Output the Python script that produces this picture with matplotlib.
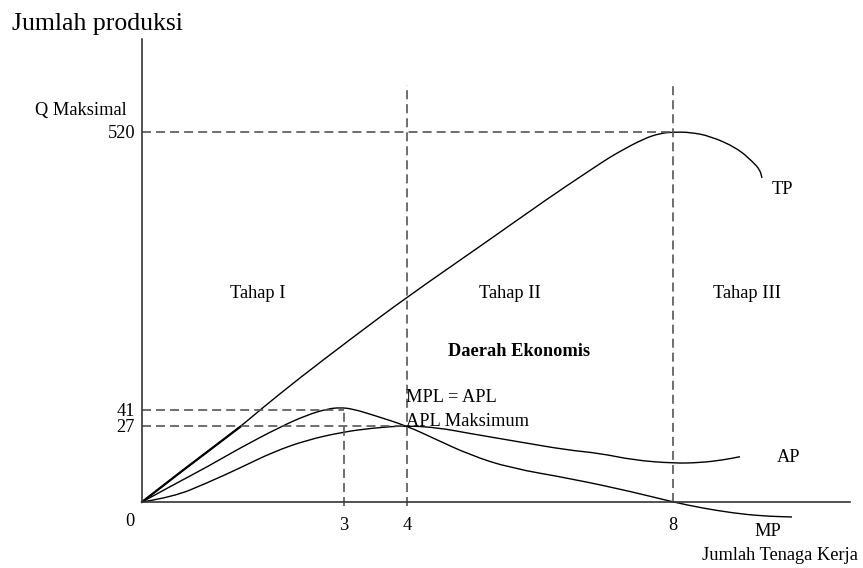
import matplotlib
matplotlib.use("Agg")
import matplotlib.pyplot as plt
from matplotlib.path import Path
from matplotlib.patches import PathPatch

plt.rcParams['font.family'] = ['Liberation Serif', 'DejaVu Serif']
plt.rcParams['lines.scale_dashes'] = False

# Schematic units (drawn position): x = labour input, y = output
tp_x = [0, 40, 98, 118, 155, 210, 265, 340, 408, 441, 462, 475, 501, 518, 532, 548, 568, 595, 611, 618, 620]
tp_y = [0, 31, 75, 92, 122, 164, 205, 257, 305, 327, 341, 349, 363, 368.7, 370, 369.7, 366, 354, 340, 332, 324]

mp_x = [0, 31, 65, 98, 138, 165, 185, 198, 211, 231, 265, 291, 328, 368, 431, 491, 531, 560, 591, 620, 650]
mp_y = [0, 17, 35, 54, 75, 87, 93, 94.5, 93, 87, 76, 64, 47, 34, 23, 10, 0, -6, -11, -14, -15]

ap_x = [0, 31, 65, 98, 131, 165, 201, 231, 265, 298, 325, 378, 425, 458, 491, 531, 558, 581, 598]
ap_y = [0, 5, 19, 34, 50, 62, 70, 74, 76.5, 74, 69, 60, 52, 48.7, 42, 38.7, 39.3, 42, 45.3]

# key positions on the axes and their labels
x_tick_pos = [202, 265, 531]
x_tick_lab = ["3", "4", "8"]
y_tick_pos = [76, 92, 370]
y_tick_lab = ["27", "41", "520"]


def smooth_curve(xs, ys):
    verts = [(xs[0], ys[0])]
    codes = [Path.MOVETO]
    for i in range(1, len(xs) - 1):
        mx = (xs[i] + xs[i + 1]) / 2.0
        my = (ys[i] + ys[i + 1]) / 2.0
        verts += [(xs[i], ys[i]), (mx, my)]
        codes += [Path.CURVE3, Path.CURVE3]
    verts.append((xs[-1], ys[-1]))
    codes.append(Path.LINETO)
    return Path(verts, codes)


fig = plt.figure(figsize=(8.63, 5.68), dpi=100)
ax = fig.add_axes([0, 0, 1, 1])
ax.set_xlim(-142, 721)
ax.set_ylim(-66, 502)

for s in ['top', 'right']:
    ax.spines[s].set_visible(False)
ax.spines['left'].set_position(('data', 0))
ax.spines['bottom'].set_position(('data', 0))
ax.spines['left'].set_bounds(0, 463)
ax.spines['bottom'].set_bounds(0, 708)
for s in ['left', 'bottom']:
    ax.spines[s].set_color('#333333')
    ax.spines[s].set_linewidth(1.2)

ax.set_xticks(x_tick_pos, x_tick_lab)
ax.set_yticks(y_tick_pos, y_tick_lab)
ax.tick_params(axis='x', length=0, pad=11, labelsize=13.2)
ax.tick_params(axis='y', length=0, pad=5, labelsize=13.2)

dash = dict(color='#555555', lw=1.2, linestyle=(0, (6.5, 3.6)))
# horizontal guides
ax.plot([0, x_tick_pos[2]], [y_tick_pos[2]] * 2, **dash)
ax.plot([0, x_tick_pos[0]], [y_tick_pos[1]] * 2, **dash)
ax.plot([0, x_tick_pos[1]], [y_tick_pos[0]] * 2, **dash)
# vertical guides
ax.plot([x_tick_pos[0]] * 2, [-4, y_tick_pos[1]], **dash)
ax.plot([x_tick_pos[1]] * 2, [-4, 417], **dash)
ax.plot([x_tick_pos[2]] * 2, [0, 417], **dash)

# curves
for xs, ys in [(tp_x, tp_y), (mp_x, mp_y), (ap_x, ap_y)]:
    ax.add_patch(PathPatch(smooth_curve(xs, ys), facecolor='none',
                           edgecolor='black', lw=1.0))
# the doubled stroke at the start of TP
ax.plot(tp_x[:3], tp_y[:3], color='black', lw=1.6)

fs = 13.2
ax.text(-12, -20, "0", ha='center', va='center', fontsize=fs)
ax.text(-130, 472, "Jumlah produksi", ha='left', va='baseline', fontsize=18.5)
ax.text(-15, 387, "Q Maksimal", ha='right', va='baseline', fontsize=fs)
ax.text(116, 209, "Tahap I", ha='center', va='center', fontsize=fs)
ax.text(368, 209, "Tahap II", ha='center', va='center', fontsize=fs)
ax.text(605, 209, "Tahap III", ha='center', va='center', fontsize=fs)
ax.text(377, 150, "Daerah Ekonomis", ha='center', va='center', fontsize=fs, fontweight='bold')
ax.text(264, 104, "MPL = APL", ha='left', va='center', fontsize=fs)
ax.text(264, 80, "APL Maksimum", ha='left', va='center', fontsize=fs)
ax.text(630, 313, "TP", ha='left', va='center', fontsize=fs)
ax.text(635, 45, "AP", ha='left', va='center', fontsize=fs)
ax.text(612, -29, "MP", ha='left', va='center', fontsize=fs)
ax.text(560, -54, "Jumlah Tenaga Kerja", ha='left', va='center', fontsize=fs)

fig.savefig("out.png", dpi=100)
